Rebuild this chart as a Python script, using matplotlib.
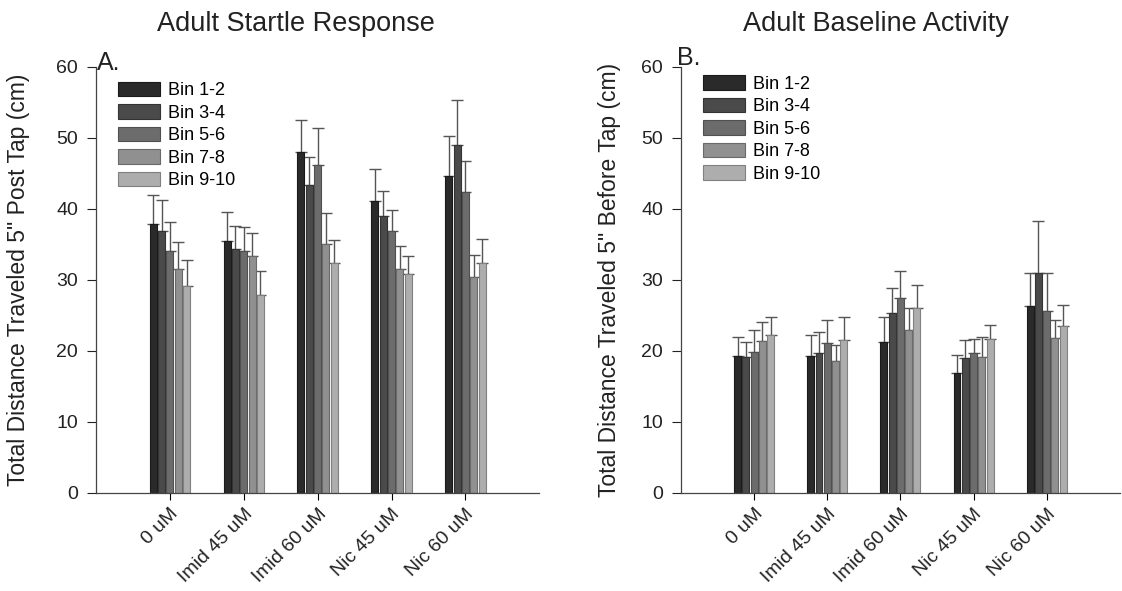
import matplotlib
matplotlib.use("Agg")
import matplotlib.pyplot as plt
import numpy as np

plt.rcParams['font.family'] = ['Liberation Sans', 'DejaVu Sans']

categories = ["0 uM", "Imid 45 uM", "Imid 60 uM", "Nic 45 uM", "Nic 60 uM"]
bins = ["Bin 1-2", "Bin 3-4", "Bin 5-6", "Bin 7-8", "Bin 9-10"]
colors = ["#2a2a2a", "#4a4a4a", "#6c6c6c", "#909090", "#adadad"]
edges = ["#1a1a1a", "#333333", "#505050", "#6a6a6a", "#808080"]

# Panel A: means per bin (rows) for each category (columns) and upper error sizes
startle_mean = [
    [37.9, 35.5, 48.0, 41.1, 44.6],
    [36.9, 34.3, 43.4, 39.0, 49.0],
    [34.0, 34.0, 46.2, 36.9, 42.4],
    [31.5, 33.3, 35.1, 31.5, 30.4],
    [29.2, 27.9, 32.4, 30.8, 32.4],
]
startle_err = [
    [4.0, 4.0, 4.5, 4.5, 5.7],
    [4.3, 3.3, 3.9, 3.5, 6.3],
    [4.1, 3.5, 5.2, 2.9, 4.3],
    [3.8, 3.3, 4.3, 3.2, 3.1],
    [3.6, 3.3, 3.2, 2.5, 3.3],
]

# Panel B
base_mean = [
    [19.3, 19.3, 21.2, 16.9, 26.3],
    [19.1, 19.7, 25.3, 19.0, 31.0],
    [19.8, 21.1, 27.4, 19.7, 25.6],
    [21.4, 18.6, 22.9, 19.1, 21.8],
    [22.3, 21.5, 26.1, 21.6, 23.5],
]
base_err = [
    [2.7, 2.9, 3.5, 2.5, 4.7],
    [2.2, 3.0, 3.6, 2.5, 7.3],
    [3.1, 3.3, 3.8, 1.9, 5.4],
    [2.7, 2.2, 3.2, 2.8, 2.6],
    [2.5, 3.3, 3.2, 2.1, 3.0],
]

fig = plt.figure(figsize=(11.22, 5.91), dpi=100)

def panel(rect, means, errs, ylabel, label_x, title, title_x, letter, letter_xy, leg_anchor):
    ax = fig.add_axes(rect)
    x = np.arange(len(categories))
    step = 0.113
    width = 0.095
    handles = []
    for i in range(len(bins)):
        off = (i - 2) * step
        h = ax.bar(x + off, means[i], width, color=colors[i], edgecolor=edges[i],
                   linewidth=0.8, label=bins[i], zorder=2)
        ax.errorbar(x + off, means[i], yerr=[np.zeros(len(x)), errs[i]], fmt='none',
                    ecolor='#555555', elinewidth=1.0, capsize=4, capthick=1.0, zorder=1)
        handles.append(h)
    ax.set_xlim(-1.0, 5.0)
    ax.set_ylim(0, 60)
    ax.set_yticks(range(0, 61, 10))
    ax.set_xticks(x)
    ax.set_xticklabels(categories, rotation=45, ha='right', rotation_mode='anchor',
                       fontsize=14, color='#222222')
    ax.tick_params(axis='y', labelsize=14, colors='#222222', length=6.5, width=0.8,
                   direction='out', pad=6.5)
    ax.tick_params(axis='x', length=5, width=0.8, direction='out', pad=4)
    for s in ['top', 'right']:
        ax.spines[s].set_visible(False)
    for s in ['left', 'bottom']:
        ax.spines[s].set_color('#444444')
        ax.spines[s].set_linewidth(0.9)
    ax.set_ylabel(ylabel, fontsize=16.5, color='#222222')
    ax.yaxis.set_label_coords(label_x, 0.5)
    ax.legend(handles=handles, loc='upper left', bbox_to_anchor=leg_anchor,
              frameon=False, fontsize=13, handlelength=2.3, handleheight=0.85,
              labelspacing=0.28, handletextpad=0.45, borderaxespad=0, borderpad=0)
    fig.text(title_x, 0.96, title, fontsize=19.5, ha='center', va='center', color='#222222')
    fig.text(letter_xy[0], letter_xy[1], letter, fontsize=18, ha='left', va='center', color='#222222')
    return ax

panel([0.0856, 0.166, 0.395, 0.721], startle_mean, startle_err,
      'Total Distance Traveled 5" Post Tap (cm)', -0.148, 'Adult Startle Response', 0.264,
      'A.', (0.086, 0.893), (0.05, 0.965))
panel([0.607, 0.166, 0.391, 0.721], base_mean, base_err,
      'Total Distance Traveled 5" Before Tap (cm)', -0.136, 'Adult Baseline Activity', 0.781,
      'B.', (0.603, 0.902), (0.05, 0.98))

fig.savefig("out.png", dpi=100)
